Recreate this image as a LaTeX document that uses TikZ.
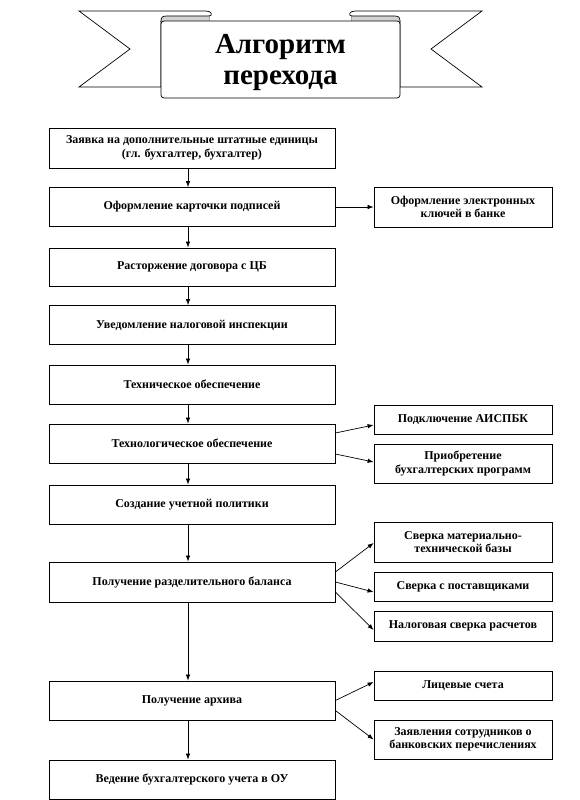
\documentclass[tikz,border=0pt]{standalone}
\usepackage{fontspec}
\setmainfont{Liberation Serif}
\usetikzlibrary{arrows.meta}
\begin{document}
\begin{tikzpicture}[x=1pt,y=-1pt,
  txt/.style={font=\bfseries\fontsize{12}{13.5}\selectfont, align=center, inner sep=0pt},
  lbox/.style={txt, draw, line width=0.8pt, fill=white, minimum width=286},
  rbox/.style={txt, draw, line width=0.8pt, fill=white, minimum width=178},
  arr/.style={-{Latex[length=6pt,width=4.5pt]}, line width=0.7pt},
  ribbon/.style={draw, line width=0.7pt, fill=white},
  curl/.style={fill=gray!35}]
\useasboundingbox (0,0) rectangle (579,800);
% banner
\draw[ribbon] (79,11) -- (206,11) .. controls (212,11) and (213,16) .. (209,16) -- (209,21) -- (161,21) -- (161,87) -- (79,87) -- (130,49) -- cycle;
\draw[ribbon] (482,11) -- (355,11) .. controls (349,11) and (348,16) .. (352,16) -- (352,21) -- (400,21) -- (400,87) -- (482,87) -- (431,49) -- cycle;
\fill[curl] (161,22) .. controls (161,17) and (162,16) .. (167,16) -- (209,16) -- (209,21) -- cycle;
\fill[curl] (400,22) .. controls (400,17) and (399,16) .. (394,16) -- (352,16) -- (352,21) -- cycle;
\draw[line width=0.7pt] (161,22) .. controls (161,17) and (162,16) .. (167,16) -- (209,16);
\draw[line width=0.7pt] (400,22) .. controls (400,17) and (399,16) .. (394,16) -- (352,16);
\draw[ribbon, rounded corners=3] (280,21) -- (400,21) -- (400,98) -- (161,98) -- (161,21) -- cycle;
\node[font=\bfseries\fontsize{29}{31}\selectfont, align=center, inner sep=0pt] (title) at (280.5,63) {Алгоритм\\перехода};
% left column
\node[lbox, minimum height=40] (b1) at (192,148) {Заявка на дополнительные штатные единицы\\(гл. бухгалтер, бухгалтер)};
\node[lbox, minimum height=39] (b2) at (192,207) {Оформление карточки подписей};
\node[lbox, minimum height=38] (b3) at (192,267) {Расторжение договора с ЦБ};
\node[lbox, minimum height=39] (b4) at (192,325) {Уведомление налоговой инспекции};
\node[lbox, minimum height=39] (b5) at (192,384.5) {Техническое обеспечение};
\node[lbox, minimum height=39] (b6) at (192,443.5) {Технологическое обеспечение};
\node[lbox, minimum height=39] (b7) at (192,504.5) {Создание учетной политики};
\node[lbox, minimum height=40] (b8) at (192,582) {Получение разделительного баланса};
\node[lbox, minimum height=39] (b9) at (192,700.5) {Получение архива};
\node[lbox, minimum height=39] (b10) at (192,779.5) {Ведение бухгалтерского учета в ОУ};
% right column
\node[rbox, minimum height=40] (r1) at (463,207) {Оформление электронных\\ключей в банке};
\node[rbox, minimum height=29] (r2) at (463,419.5) {Подключение АИСПБК};
\node[rbox, minimum height=39] (r3) at (463,463.5) {Приобретение\\бухгалтерских программ};
\node[rbox, minimum height=40] (r4) at (463,542) {Сверка материально-\\технической базы};
\node[rbox, minimum height=29] (r5) at (463,586.5) {Сверка с поставщиками};
\node[rbox, minimum height=30] (r6) at (463,626) {Налоговая сверка расчетов};
\node[rbox, minimum height=29] (r7) at (463,685.5) {Лицевые счета};
\node[rbox, minimum height=39] (r8) at (463,739.5) {Заявления сотрудников о\\банковских перечислениях};
% vertical arrows
\foreach \a/\b in {b1/b2,b2/b3,b3/b4,b4/b5,b5/b6,b6/b7,b7/b8,b8/b9,b9/b10}
  \draw[arr] ([xshift=-4pt]\a.south) -- ([xshift=-4pt]\b.north);
% side arrows
\draw[arr] (b2.east) -- (r1.west);
\draw[arr] ([yshift=10.5pt]b6.east) -- ([yshift=-5.5pt]r2.west);
\draw[arr] ([yshift=-10.5pt]b6.east) -- ([yshift=1.5pt]r3.west);
\draw[arr] ([yshift=10pt]b8.east) -- ([yshift=-1pt]r4.west);
\draw[arr] (b8.east) -- ([yshift=-5.5pt]r5.west);
\draw[arr] ([yshift=-10pt]b8.east) -- ([yshift=-4pt]r6.west);
\draw[arr] (b9.east) -- ([yshift=3.5pt]r7.west);
\draw[arr] ([yshift=-10pt]b9.east) -- (r8.west);
\end{tikzpicture}
\end{document}
